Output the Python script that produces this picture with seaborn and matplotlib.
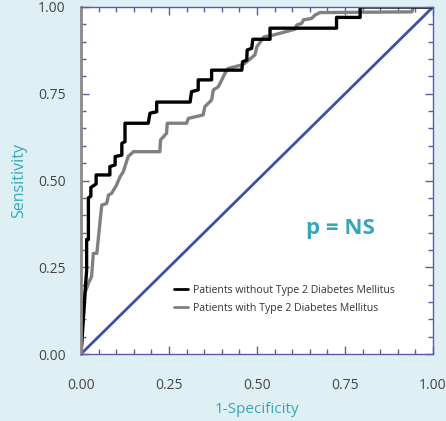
import numpy as np
import pandas as pd
import seaborn as sns
import matplotlib.pyplot as plt
from matplotlib.ticker import MultipleLocator

# ROC curve vertices (1-specificity, sensitivity)
fpr_without = [0.0, 0.011, 0.013, 0.016, 0.016, 0.021, 0.021, 0.028, 0.028, 0.043, 0.043,
               0.082, 0.082, 0.097, 0.097, 0.116, 0.116, 0.125, 0.125, 0.191, 0.196,
               0.215, 0.215, 0.310, 0.314, 0.333, 0.333, 0.371, 0.371, 0.457, 0.459,
               0.471, 0.472, 0.485, 0.488, 0.537, 0.537, 0.726, 0.726, 0.793, 0.793, 1.0]
tpr_without = [0.0, 0.17, 0.20, 0.24, 0.33, 0.33, 0.45, 0.455, 0.48, 0.49, 0.516,
               0.516, 0.54, 0.545, 0.569, 0.573, 0.607, 0.612, 0.665, 0.665, 0.694,
               0.698, 0.726, 0.726, 0.756, 0.761, 0.79, 0.79, 0.818, 0.818, 0.842,
               0.847, 0.876, 0.881, 0.907, 0.907, 0.939, 0.939, 0.97, 0.97, 1.0, 1.0]

fpr_with = [0.0, 0.011, 0.021, 0.030, 0.035, 0.045, 0.054, 0.059, 0.073, 0.078, 0.087,
            0.101, 0.111, 0.120, 0.134, 0.149, 0.224, 0.226, 0.243, 0.245, 0.300,
            0.305, 0.347, 0.352, 0.371, 0.376, 0.390, 0.400, 0.409, 0.418, 0.457,
            0.466, 0.480, 0.494, 0.500, 0.510, 0.520, 0.546, 0.608, 0.613, 0.627,
            0.632, 0.655, 0.665, 0.679, 0.940, 0.944, 1.0]
tpr_with = [0.0, 0.175, 0.204, 0.223, 0.290, 0.290, 0.381, 0.429, 0.434, 0.458, 0.463,
            0.487, 0.511, 0.525, 0.569, 0.583, 0.583, 0.617, 0.636, 0.665, 0.665,
            0.679, 0.689, 0.713, 0.732, 0.761, 0.770, 0.790, 0.809, 0.823, 0.833,
            0.838, 0.850, 0.862, 0.886, 0.900, 0.914, 0.919, 0.936, 0.948, 0.953,
            0.963, 0.967, 0.977, 0.984, 0.986, 1.0, 1.0]

ref_line = [0.0, 1.0]

label_without = "Patients without Type 2 Diabetes Mellitus"
label_with = "Patients with Type 2 Diabetes Mellitus"

sns.set_theme(style="ticks")
plt.rcParams['font.family'] = ['Open Sans', 'DejaVu Sans']

bg = "#dff0f5"
teal = "#35a8b8"
spine_col = "#5a5ea8"

fig = plt.figure(figsize=(4.46, 4.21), dpi=100, facecolor=bg)
ax = fig.add_axes([81 / 446, 67 / 421, 352 / 446, 347 / 421])
ax.set_facecolor("white")

sns.lineplot(x=ref_line, y=ref_line, ax=ax, color="#3f4ea6", linewidth=2.0,
             sort=False, estimator=None)
sns.lineplot(x=fpr_with, y=tpr_with, ax=ax, color="#808080", linewidth=2.4,
             sort=False, estimator=None, label=label_with)
sns.lineplot(x=fpr_without, y=tpr_without, ax=ax, color="black", linewidth=2.4,
             sort=False, estimator=None, label=label_without)

ax.set_xlim(0, 1)
ax.set_ylim(0, 1)
ax.xaxis.set_major_locator(MultipleLocator(0.25))
ax.yaxis.set_major_locator(MultipleLocator(0.25))
ax.xaxis.set_minor_locator(MultipleLocator(0.05))
ax.yaxis.set_minor_locator(MultipleLocator(0.05))
ax.xaxis.set_major_formatter(plt.FormatStrFormatter('%.2f'))
ax.yaxis.set_major_formatter(plt.FormatStrFormatter('%.2f'))

ax.tick_params(which="both", direction="in", top=True, right=True,
               color=spine_col, width=1.0, labelcolor="#444444", labelsize=10)
ax.tick_params(which="major", length=6)
ax.tick_params(which="minor", length=3.5)
ax.tick_params(axis="x", which="major", pad=17)
ax.tick_params(axis="y", which="major", pad=11)

for side in ["top", "right", "bottom"]:
    ax.spines[side].set_color(spine_col)
    ax.spines[side].set_linewidth(1.0)
ax.spines["left"].set_color("#8a8a8a")
ax.spines["left"].set_linewidth(2.0)

ax.set_xlabel("1-Specificity", color=teal, fontsize=11, labelpad=7)
ax.set_ylabel("Sensitivity", color=teal, fontsize=11.5, labelpad=8)

ax.text(0.736, 0.363, "p = NS", color=teal, fontsize=16, fontweight="bold",
        ha="center", va="center", transform=ax.transAxes)

handles, labels = ax.get_legend_handles_labels()
leg = ax.legend(handles[::-1], labels[::-1], loc="upper left", bbox_to_anchor=(0.25, 0.215),
                frameon=False, fontsize=7.6, handlelength=1.3, handletextpad=0.5,
                labelspacing=0.65, borderpad=0)
for line in leg.get_lines():
    line.set_linewidth(2.0)
for t in leg.get_texts():
    t.set_color("#333333")

fig.savefig("out.png", dpi=100, facecolor=bg)
